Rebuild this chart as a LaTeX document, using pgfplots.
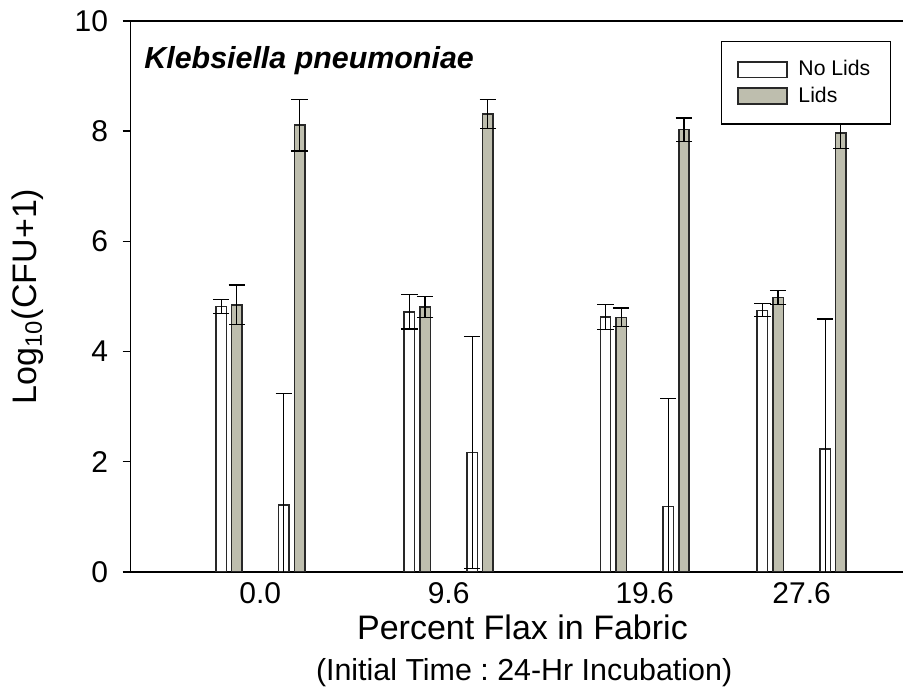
\documentclass[border=0pt]{standalone}
\usepackage{fontspec}
\setmainfont{Liberation Sans}
\usepackage{pgfplots}
\pgfplotsset{compat=1.18}
\definecolor{lidgray}{RGB}{190,190,174}
\definecolor{edge}{RGB}{40,40,40}
\pgfplotsset{every non boxed y axis/.style={}}
\pgfplotsset{boxlegend/.style={legend image code/.code={\draw[##1] (0pt,-3.9pt) rectangle (24.5pt,3.9pt);}}}
\frenchspacing
\begin{document}
\begin{tikzpicture}
\path[use as bounding box] (-65.25pt,-58pt) rectangle (386.25pt,286pt);
\begin{axis}[
  at={(0pt,0pt)}, anchor=south west,
  scale only axis, width=386.25pt, height=275.5pt,
  xmin=-6.62, xmax=32.77, ymin=0, ymax=10,
  axis x line=box, axis y line=left,
  axis line style={line width=0.8pt, black, -},
  xtick={0,9.6,19.6,27.6}, xticklabels={0.0,9.6,19.6,27.6},
  ytick={0,2,4,6,8,10},
  tick align=outside,
  major tick length=4pt,
  x tick style={draw=none},
  y tick style={line width=0.7pt, black},
  tick label style={font=\fontsize{15}{18}\selectfont},
  /pgf/number format/assume math mode=true,
  yticklabel style={inner xsep=0pt, xshift=-7pt},
  xticklabel style={inner ysep=0pt, yshift=-1pt},
  xlabel={Percent Flax in Fabric},
  xlabel style={font=\fontsize{17}{20}\selectfont, at={(axis description cs:0.5074,-0.1222)}, anchor=base, inner sep=0pt},
  ylabel={Log\textsubscript{10}(CFU+1)},
  ylabel style={font=\fontsize{17}{20}\selectfont, at={(axis description cs:-0.1214,0.5)}, anchor=base, inner sep=0pt},
  legend style={at={(axis description cs:0.98447,0.9637)}, anchor=north east, draw=black, line width=0.65pt, fill=white,
    inner xsep=8pt, inner ysep=7.4pt, column sep=3.4pt, font=\fontsize{10.6}{12.7}\selectfont},
  legend cell align=left,
  extra description/.code={
    \node[anchor=base west, inner sep=0pt, font=\fontsize{15.2}{18}\selectfont\bfseries\itshape] at (axis description cs:0.01748,0.9142) {Klebsiella pneumoniae};
    \node[anchor=base, inner sep=0pt, font=\fontsize{15.2}{18}\selectfont] at (axis description cs:0.5095,-0.19601) {(Initial Time : 24-Hr Incubation)};
  },
]
\addplot[ybar, bar width=0.53, bar shift=0pt, fill=white, draw=edge, line width=0.75pt, boxlegend,
  error bars/.cd, y dir=both, y explicit, error mark=-,
  error bar style={line width=0.6pt, black},
  error mark options={line width=0.6pt, black, mark size=4.1pt, rotate=90}]
coordinates {
 (-2,4.82) +- (0,0.13)
 (1.2,1.22) +- (0,2.02)
 (7.6,4.72) +- (0,0.31)
 (10.8,2.17) +- (0,2.10)
 (17.6,4.63) +- (0,0.23)
 (20.8,1.19) +- (0,1.96)
 (25.6,4.75) +- (0,0.12)
 (28.8,2.23) +- (0,2.36)
};
\addlegendentry{No Lids}
\addplot[ybar, bar width=0.53, bar shift=0pt, fill=lidgray, draw=edge, line width=0.75pt, boxlegend,
  error bars/.cd, y dir=both, y explicit, error mark=-,
  error bar style={line width=0.6pt, black},
  error mark options={line width=0.6pt, black, mark size=4.1pt, rotate=90}]
coordinates {
 (-1.2,4.85) +- (0,0.36)
 (2,8.11) +- (0,0.47)
 (8.4,4.81) +- (0,0.19)
 (11.6,8.31) +- (0,0.26)
 (18.4,4.62) +- (0,0.17)
 (21.6,8.03) +- (0,0.21)
 (26.4,4.98) +- (0,0.13)
 (29.6,7.97) +- (0,0.28)
};
\addlegendentry{Lids}
\end{axis}
\end{tikzpicture}
\end{document}
